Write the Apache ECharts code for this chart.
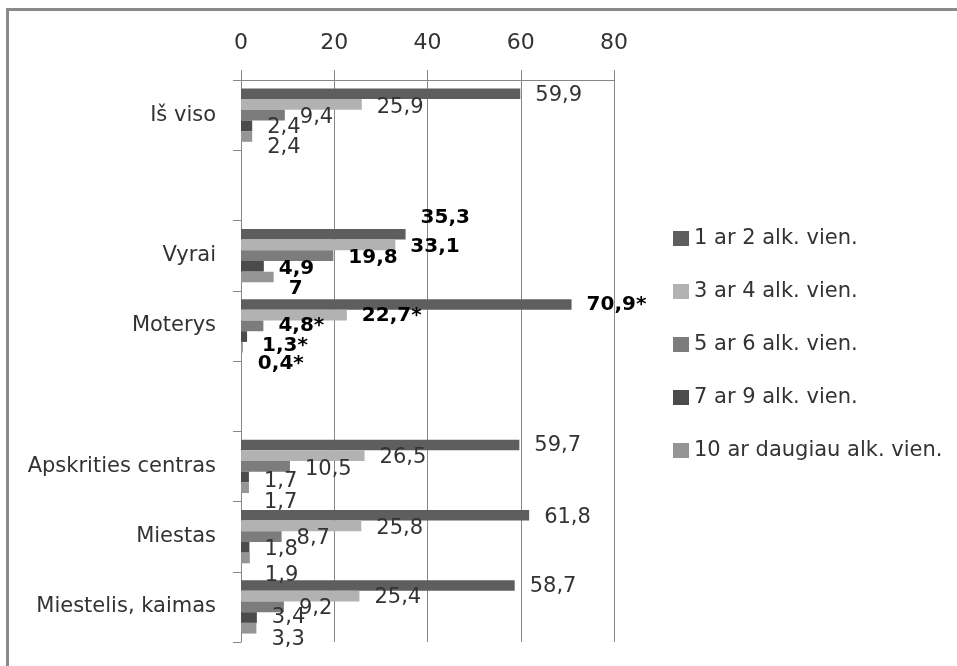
<!DOCTYPE html>
<html>
<head>
<meta charset="utf-8">
<title>Alkoholio vienetai</title>
<script src="https://cdn.jsdelivr.net/npm/echarts@6/dist/echarts.min.js"></script>
<style>
  html, body { margin: 0; padding: 0; background: #ffffff; }
  #chart { width: 957px; height: 666px; }
</style>
</head>
<body>
<div id="chart"></div>
<script>
// Categories (blank entries are spacer rows between groups)
var categories = ['Iš viso', '', 'Vyrai', 'Moterys', ' ', 'Apskrities centras', 'Miestas', 'Miestelis, kaimas'];

var seriesNames = ['1 ar 2 alk. vien.', '3 ar 4 alk. vien.', '5 ar 6 alk. vien.', '7 ar 9 alk. vien.', '10 ar daugiau alk. vien.'];

var s1 = [59.9, null, 35.3, 70.9, null, 59.7, 61.8, 58.7];
var s2 = [25.9, null, 33.1, 22.7, null, 26.5, 25.8, 25.4];
var s3 = [9.4, null, 19.8, 4.8, null, 10.5, 8.7, 9.2];
var s4 = [2.4, null, 4.9, 1.3, null, 1.7, 1.8, 3.4];
var s5 = [2.4, null, 7, 0.4, null, 1.7, 1.9, 3.3];

var xTicks = [0, 20, 40, 60, 80];

// Label suffix and emphasis per category
var labelSuffix = ['', '', '', '*', '', '', '', ''];
var boldRows = [false, false, true, true, false, false, false, false];

// Vertical nudges of value labels (px), per series and category
var labelNudge = [
  [2, 0, -16, 0, 0, 1, 2, 1],
  [3, 0, 2, 1, 0, 2, 3, 1],
  [2, 0, 2, 0, 0, 3, 2, 2],
  [2, 0, 2, 9, 0, 4, 2, 0],
  [11, 0, 12, 17, 0, 15, 18, 11]
];

var colors = ['#5e5e5e', '#b2b2b2', '#7c7c7c', '#4b4b4b', '#959595'];
var allSeries = [s1, s2, s3, s4, s5];

var FONT = 'DejaVu Sans';
var GRID_COLOR = '#878787';
var TEXT_COLOR = '#333333';

function fmt(v, idx) {
  return String(v).replace('.', ',') + labelSuffix[idx];
}

var series = allSeries.map(function (vals, si) {
  return {
    name: seriesNames[si],
    type: 'bar',
    barGap: '0%',
    barCategoryGap: '24%',
    itemStyle: { color: colors[si] },
    data: vals.map(function (v, ci) {
      if (v === null) return null;
      var bold = boldRows[ci];
      return {
        value: v,
        label: {
          offset: [0, labelNudge[si][ci]],
          fontWeight: bold ? 'bold' : 'normal',
          fontSize: bold ? 20 : 21,
          color: bold ? '#000000' : TEXT_COLOR
        }
      };
    }),
    label: {
      show: true,
      position: 'right',
      distance: 15,
      fontFamily: FONT,
      formatter: function (p) { return fmt(p.value, p.dataIndex); }
    }
  };
});

var chart = echarts.init(document.getElementById('chart'), null, { renderer: 'canvas' });

chart.setOption({
  animation: false,
  backgroundColor: '#ffffff',
  textStyle: { fontFamily: FONT },
  graphic: [{
    type: 'rect',
    shape: { x: 7.5, y: 9.5, width: 1000, height: 700 },
    style: { fill: 'none', stroke: '#8a8a8a', lineWidth: 3 },
    silent: true
  }],
  grid: { left: 241, top: 80, width: 373, height: 562, containLabel: false },
  legend: {
    orient: 'vertical',
    left: 668,
    top: 223,
    itemWidth: 16,
    itemHeight: 15,
    itemGap: 32,
    icon: 'rect',
    textStyle: { fontFamily: FONT, fontSize: 21, color: TEXT_COLOR, padding: [0, 0, 0, 0] },
    data: seriesNames
  },
  xAxis: {
    type: 'value',
    position: 'top',
    min: xTicks[0],
    max: xTicks[xTicks.length - 1],
    interval: xTicks[1] - xTicks[0],
    axisLine: { show: true, lineStyle: { color: GRID_COLOR, width: 1 } },
    axisTick: { show: true, length: 10, lineStyle: { color: GRID_COLOR } },
    axisLabel: { fontFamily: FONT, fontSize: 22, color: TEXT_COLOR, margin: 26 },
    splitLine: { show: true, lineStyle: { color: GRID_COLOR, width: 1 } }
  },
  yAxis: {
    type: 'category',
    inverse: true,
    data: categories,
    axisLine: { show: true, lineStyle: { color: GRID_COLOR, width: 1 } },
    axisTick: { show: true, length: 8, lineStyle: { color: GRID_COLOR } },
    axisLabel: { interval: 0, fontFamily: FONT, fontSize: 21, color: TEXT_COLOR, margin: 25 },
    splitLine: { show: false }
  },
  series: series
});
</script>
</body>
</html>
